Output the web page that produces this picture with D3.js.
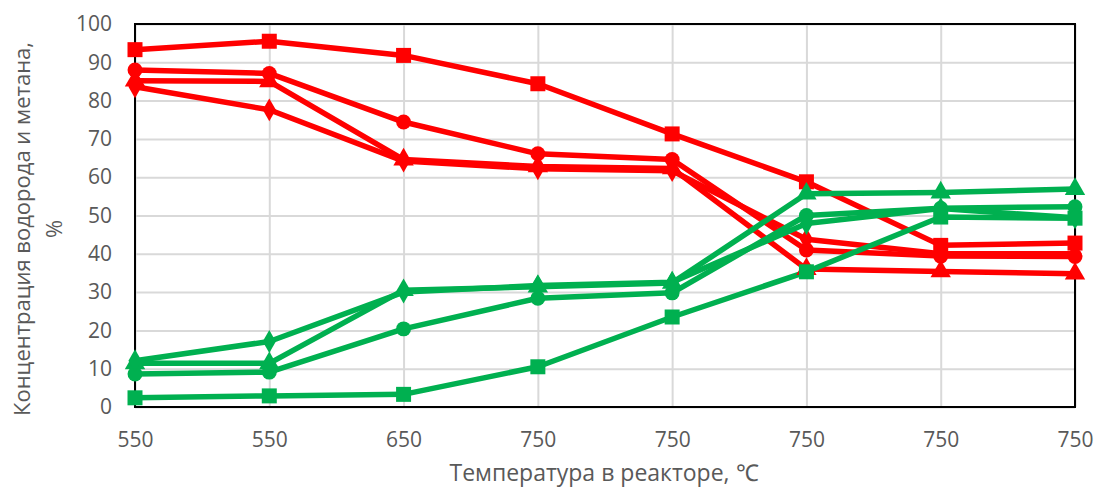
<!DOCTYPE html>
<html>
<head>
<meta charset="utf-8">
<script src="https://cdn.jsdelivr.net/npm/d3@7/dist/d3.min.js"></script>
<style>
  html, body { margin: 0; padding: 0; background: #fff; }
  svg { display: block; }
  text { font-family: "Open Sans", "Liberation Sans", sans-serif; }
</style>
</head>
<body>
<svg id="chart" width="1094" height="488"></svg>
<script>
// ---- data ----
const categories = ["550", "550", "650", "750", "750", "750", "750", "750"];
const yTicks = [0, 10, 20, 30, 40, 50, 60, 70, 80, 90, 100];

// red (hydrogen) series
const redSquare   = [93.3, 95.5, 91.8, 84.4, 71.3, 58.8, 42.2, 42.8];
const redCircle   = [88.0, 87.1, 74.4, 66.1, 64.6, 41.0, 39.4, 39.3];
const redTriangle = [85.2, 85.0, 64.6, 62.8, 62.3, 36.0, 35.4, 34.8];
const redDiamond  = [83.6, 77.6, 64.2, 62.2, 61.7, 43.8, 40.0, 40.0];

// green (methane) series
const greenSquare   = [2.4, 2.9, 3.3, 10.5, 23.5, 35.3, 49.6, 49.3];
const greenCircle   = [8.6, 9.1, 20.4, 28.4, 29.8, 50.0, 51.9, 52.3];
const greenTriangle = [11.4, 11.4, 30.5, 31.4, 32.4, 55.7, 56.0, 56.9];
const greenDiamond  = [12.1, 17.1, 30.0, 31.7, 32.6, 47.9, 51.8, 49.4];

const series = [
  { values: redSquare,     color: "#FF0000", symbol: "square" },
  { values: redCircle,     color: "#FF0000", symbol: "circle" },
  { values: redTriangle,   color: "#FF0000", symbol: "triangle" },
  { values: redDiamond,    color: "#FF0000", symbol: "diamond" },
  { values: greenSquare,   color: "#00B050", symbol: "square" },
  { values: greenCircle,   color: "#00B050", symbol: "circle" },
  { values: greenTriangle, color: "#00B050", symbol: "triangle" },
  { values: greenDiamond,  color: "#00B050", symbol: "diamond" }
];

const yTitle1 = "Концентрация водорода и метана,";
const yTitle2 = "%";
const xTitle = "Температура в реакторе, \u2103";

// ---- layout ----
const svg = d3.select("#chart");
const margin = { left: 135, right: 19, top: 24, bottom: 81 };
const W = 1094, H = 488;
const iw = W - margin.left - margin.right;
const ih = H - margin.top - margin.bottom;

const x = d3.scalePoint().domain(d3.range(categories.length)).range([0, iw]);
const y = d3.scaleLinear().domain([0, 100]).range([ih, 0]);

const g = svg.append("g").attr("transform", `translate(${margin.left},${margin.top})`);

// grid
g.append("g").attr("class", "ygrid")
  .call(d3.axisLeft(y).tickValues(yTicks).tickSize(-iw).tickFormat(""))
  .call(s => s.select(".domain").remove())
  .call(s => s.selectAll("line").attr("stroke", "#d9d9d9").attr("stroke-width", 2));
g.append("g").attr("class", "xgrid")
  .call(d3.axisBottom(x).tickSize(ih).tickFormat(""))
  .call(s => s.select(".domain").remove())
  .call(s => s.selectAll("line").attr("stroke", "#d9d9d9").attr("stroke-width", 2));

// frame
g.append("rect").attr("x", 0).attr("y", 0).attr("width", iw).attr("height", ih)
  .attr("fill", "none").attr("stroke", "#000").attr("stroke-width", 2);

// axes labels
const yAxis = g.append("g")
  .call(d3.axisLeft(y).tickValues(yTicks).tickSize(0).tickPadding(23))
  .call(s => s.select(".domain").remove());
yAxis.selectAll("text").attr("font-size", 21).attr("fill", "#595959")
  .attr("font-family", "'Open Sans', sans-serif");

const xAxis = g.append("g").attr("transform", `translate(0,${ih})`)
  .call(d3.axisBottom(x).tickSize(0).tickPadding(25).tickFormat(i => categories[i]))
  .call(s => s.select(".domain").remove());
xAxis.selectAll("text").attr("font-size", 21).attr("fill", "#595959")
  .attr("font-family", "'Open Sans', sans-serif");

// lines & markers
const line = d3.line().x((d, i) => x(i)).y(d => y(d));
const symbolMap = {
  square: d3.symbolSquare, circle: d3.symbolCircle,
  triangle: d3.symbolTriangle, diamond: d3.symbolDiamond
};
const symbolSize = { square: 225, circle: 175, triangle: 180, diamond: 150 };

series.forEach(s => {
  g.append("path").datum(s.values)
    .attr("fill", "none").attr("stroke", s.color).attr("stroke-width", 5.5)
    .attr("stroke-linejoin", "round").attr("d", line);
});
series.forEach(s => {
  const sym = d3.symbol().type(symbolMap[s.symbol]).size(symbolSize[s.symbol]);
  g.selectAll(null).data(s.values).enter().append("path")
    .attr("d", sym)
    .attr("transform", (d, i) => `translate(${x(i)},${y(d)})`)
    .attr("fill", s.color);
});

// titles
svg.append("text")
  .attr("transform", `translate(30,229) rotate(-90)`)
  .attr("text-anchor", "middle").attr("font-size", 22).attr("fill", "#595959")
  .text(yTitle1);
svg.append("text")
  .attr("transform", `translate(62,229) rotate(-90)`)
  .attr("text-anchor", "middle").attr("font-size", 22).attr("fill", "#595959")
  .text(yTitle2);
svg.append("text")
  .attr("x", 604).attr("y", 481)
  .attr("text-anchor", "middle").attr("font-size", 23).attr("fill", "#595959")
  .text(xTitle);
</script>
</body>
</html>
